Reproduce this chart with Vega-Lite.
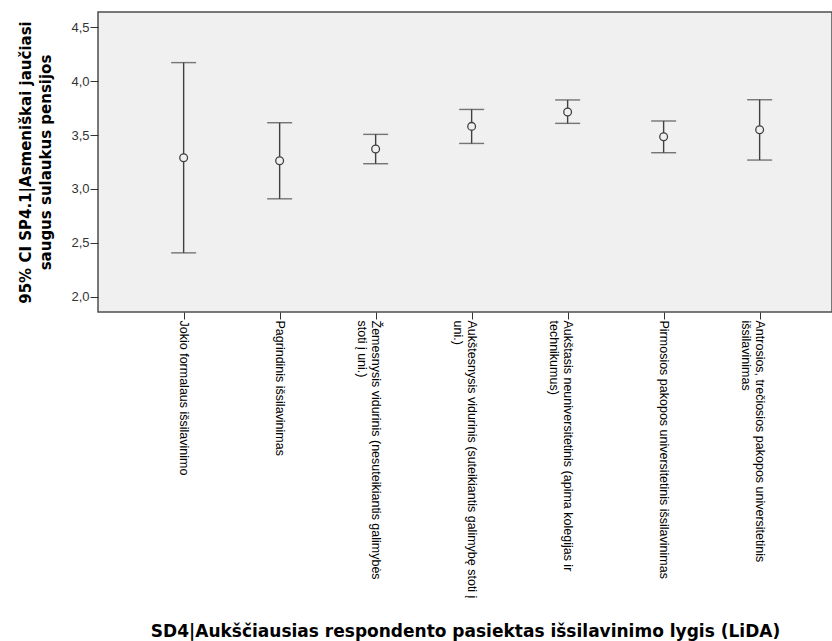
{
  "$schema": "https://vega.github.io/schema/vega-lite/v6.json",
  "width": 734,
  "height": 300,
  "autosize": "none",
  "padding": {"left": 98, "top": 12, "right": 0, "bottom": 329},
  "background": "white",
  "config": {
    "view": {"fill": "#f0f0f0", "stroke": "#4d4d4d", "strokeWidth": 1.5}
  },
  "data": {
    "values": [
      {"cat": "Jokio formalaus išsilavinimo", "lower": 2.408, "mean": 3.289, "upper": 4.171},
      {"cat": "Pagrindinis išsilavinimas", "lower": 2.909, "mean": 3.262, "upper": 3.614},
      {"cat": "Žemesnysis vidurinis (nesuteikiantis galimybės\nstoti į uni.)", "lower": 3.234, "mean": 3.370, "upper": 3.506},
      {"cat": "Aukštesnysis vidurinis (suteikiantis galimybę stoti į\nuni.)", "lower": 3.422, "mean": 3.580, "upper": 3.737},
      {"cat": "Aukštasis neuniversitetinis (apima kolegijas ir\ntechnikumus)", "lower": 3.608, "mean": 3.713, "upper": 3.825},
      {"cat": "Pirmosios pakopos universitetinis išsilavinimas", "lower": 3.336, "mean": 3.484, "upper": 3.630},
      {"cat": "Antrosios, trečiosios pakopos universitetinis\nišsilavinimas", "lower": 3.268, "mean": 3.549, "upper": 3.827}
    ]
  },
  "encoding": {
    "x": {
      "field": "cat",
      "type": "nominal",
      "sort": null,
      "scale": {"type": "point", "padding": 0.823, "align": 0.542},
      "axis": {
        "title": "SD4|Aukščiausias respondento pasiektas išsilavinimo lygis (LiDA)",
        "titleFont": "DejaVu Sans",
        "titleFontSize": 17,
        "titleFontWeight": "bold",
        "titleColor": "#000000",
        "titleX": 367,
        "titleY": 324,
        "titleAlign": "center",
        "titleBaseline": "alphabetic",
        "domain": false,
        "ticks": true,
        "tickSize": 7,
        "tickColor": "#333333",
        "tickWidth": 1,
        "labelAngle": 90,
        "labelAlign": "left",
        "labelBaseline": "top",
        "labelOffset": 6,
        "labelPadding": 1,
        "labelFont": "Liberation Sans",
        "labelFontSize": 12.5,
        "labelColor": "#000000",
        "labelLineHeight": 14,
        "labelLimit": 400,
        "labelOverlap": false,
        "labelExpr": "split(datum.value, '\\n')"
      }
    }
  },
  "layer": [
    {
      "mark": {"type": "rule", "color": "#404040", "strokeWidth": 1.4},
      "encoding": {
        "y": {
          "field": "lower",
          "type": "quantitative",
          "scale": {"domain": [1.86, 4.64], "nice": false, "zero": false},
          "axis": {
            "title": ["95% CI SP4.1|Asmeniškai jaučiasi", "saugus sulaukus pensijos"],
            "titleFont": "DejaVu Sans",
            "titleFontSize": 15,
            "titleFontWeight": "bold",
            "titleColor": "#000000",
            "titleAngle": -90,
            "titleAlign": "center",
            "titleBaseline": "bottom",
            "titleX": -65,
            "titleY": 150,
            "titleLineHeight": 20,
            "values": [2, 2.5, 3, 3.5, 4, 4.5],
            "labelExpr": "replace(format(datum.value, '.1f'), '.', ',')",
            "labelFont": "Liberation Sans",
            "labelFontSize": 13,
            "labelColor": "#333333",
            "labelPadding": 1,
            "domain": false,
            "grid": false,
            "tickSize": 8,
            "tickColor": "#333333",
            "tickWidth": 1
          }
        },
        "y2": {"field": "upper"}
      }
    },
    {
      "mark": {"type": "tick", "color": "#404040", "size": 25, "thickness": 1.4},
      "encoding": {"y": {"field": "upper", "type": "quantitative"}}
    },
    {
      "mark": {"type": "tick", "color": "#404040", "size": 25, "thickness": 1.4},
      "encoding": {"y": {"field": "lower", "type": "quantitative"}}
    },
    {
      "mark": {"type": "point", "shape": "circle", "size": 60, "filled": true, "fill": "#f0f0f0", "stroke": "#404040", "strokeWidth": 1.3, "opacity": 1},
      "encoding": {"y": {"field": "mean", "type": "quantitative"}}
    }
  ]
}
